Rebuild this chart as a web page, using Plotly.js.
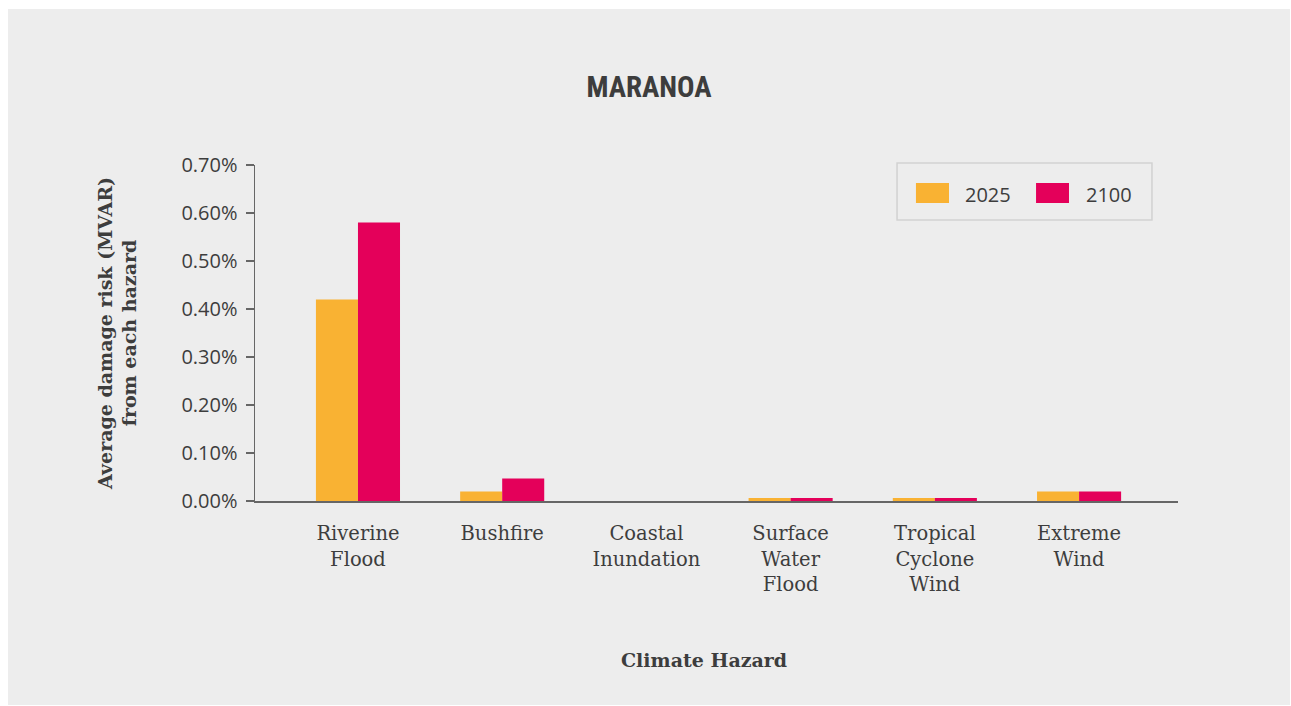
<!DOCTYPE html>
<html>
<head>
<meta charset="utf-8">
<script src="https://cdn.plot.ly/plotly-3.0.1.min.js"></script>
<style>
  html, body { margin: 0; padding: 0; background: #ffffff; width: 1291px; height: 706px; overflow: hidden; }
  #chart { position: absolute; left: 8px; top: 9px; width: 1282px; height: 696px; }
</style>
</head>
<body>
<div id="chart"></div>
<script>
const categories = ["Riverine<br>Flood", "Bushfire", "Coastal<br>Inundation", "Surface<br>Water<br>Flood", "Tropical<br>Cyclone<br>Wind", "Extreme<br>Wind"];
const values2025 = [0.0042, 0.0002, 0, 0.00006, 0.00006, 0.0002];
const values2100 = [0.0058, 0.00047, 0, 0.00006, 0.00006, 0.0002];
const seriesNames = ["2025", "2100"];
const seriesColors = ["#F9B233", "#E4005A"];
const yTickVals = [0, 0.001, 0.002, 0.003, 0.004, 0.005, 0.006, 0.007];
const xAxisTitle = "Climate Hazard";

const textColor = "#3d3d3d";
const slab = "'DejaVu Serif', 'Liberation Serif', serif";
const sans = "'Open Sans', 'Noto Sans', sans-serif";

const traces = [
  { type: "bar", name: seriesNames[0], x: categories, y: values2025, marker: { color: seriesColors[0] }, hoverinfo: "skip" },
  { type: "bar", name: seriesNames[1], x: categories, y: values2100, marker: { color: seriesColors[1] }, hoverinfo: "skip" }
];

// Custom legend (box, swatches, labels) in paper coordinates
const legendSwatchX = [[0.7161, 0.7519], [0.8462, 0.8819]];
const legendTextX = [0.767, 0.898];
const shapes = [
  { type: "rect", xref: "paper", yref: "paper", x0: 0.6956, x1: 0.9718, y0: 0.8363, y1: 1.006,
    line: { color: "#d2d2d2", width: 1.5 }, fillcolor: "#ededed", layer: "above" }
];
const annotations = [
  { xref: "paper", yref: "paper", x: 0.4865, y: -0.473, xanchor: "center", yanchor: "middle",
    showarrow: false, text: "<b>" + xAxisTitle + "</b>", font: { family: slab, size: 19, color: textColor } }
];
seriesNames.forEach((n, i) => {
  shapes.push({ type: "rect", xref: "paper", yref: "paper",
    x0: legendSwatchX[i][0], x1: legendSwatchX[i][1], y0: 0.8869, y1: 0.9464,
    line: { width: 0 }, fillcolor: seriesColors[i], layer: "above" });
  annotations.push({ xref: "paper", yref: "paper", x: legendTextX[i], y: 0.912,
    xanchor: "left", yanchor: "middle", showarrow: false, text: n,
    font: { family: sans, size: 20, color: textColor } });
});

const layout = {
  width: 1282, height: 696,
  paper_bgcolor: "#ededed", plot_bgcolor: "#ededed",
  margin: { l: 247, r: 112, t: 156, b: 204 },
  barmode: "group", bargap: 0.417, bargroupgap: 0,
  title: {
    text: "<b>MARANOA</b>",
    font: { family: "'Liberation Sans Narrow', 'Roboto Condensed', Roboto, sans-serif", size: 29, color: textColor },
    x: 0.5, xref: "container", xanchor: "center",
    y: 0.888, yref: "container", yanchor: "middle"
  },
  xaxis: {
    type: "category",
    range: [-0.714, 5.686],
    showline: true, linecolor: "#666666", linewidth: 2,
    ticks: "", showgrid: false, zeroline: false,
    tickfont: { family: slab, size: 19.5, color: textColor },
    ticklabelstandoff: 14,
    fixedrange: true
  },
  yaxis: {
    range: [0, 0.007],
    tickvals: yTickVals, tickformat: ".2%",
    showline: true, linecolor: "#666666", linewidth: 1.5,
    ticks: "outside", ticklen: 8, tickcolor: "#666666", tickwidth: 1.5,
    ticklabelstandoff: 4,
    showgrid: false, zeroline: false,
    tickfont: { family: sans, size: 20, color: textColor },
    title: { text: "<b>Average damage risk (MVAR)<br>from each hazard</b>", font: { family: slab, size: 19, color: textColor }, standoff: 39 },
    fixedrange: true
  },
  shapes: shapes,
  annotations: annotations,
  showlegend: false
};

Plotly.newPlot("chart", traces, layout, { displayModeBar: false, staticPlot: true });
</script>
</body>
</html>
